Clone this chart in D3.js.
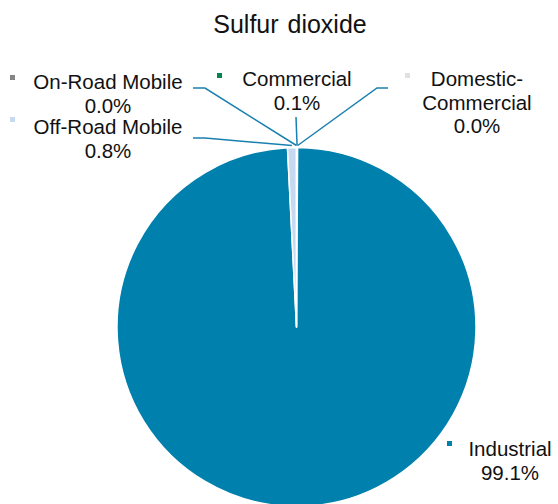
<!DOCTYPE html>
<html>
<head>
<meta charset="utf-8">
<script src="https://cdn.jsdelivr.net/npm/d3@7"></script>
<style>
  body { margin: 0; background: #fff; }
  text { font-family: "Liberation Sans", Arial, sans-serif; fill: #111; }
</style>
</head>
<body>
<div id="wrapper"></div>
<script>
// slices, clockwise from 12 o'clock
const categories = ['Commercial', 'Domestic-Commercial', 'Industrial', 'Off-Road Mobile', 'On-Road Mobile'];
const shares = [0.1, 0.0, 99.1, 0.8, 0.0];
const colors = ['#00864f', '#e0e0e0', '#0080ad', '#c6d9f1', '#858585'];
const labelLines = {
  'Commercial': ['Commercial'],
  'Domestic-Commercial': ['Domestic-', 'Commercial'],
  'Industrial': ['Industrial'],
  'Off-Road Mobile': ['Off-Road Mobile'],
  'On-Road Mobile': ['On-Road Mobile'],
};

function drawPie() {
  const dimensions = { width: 558, height: 504 };
  const center = { x: 296.5, y: 327 };
  const radius = 179.5;

  // label layout: text centre, first baseline, marker, leader start/elbow
  const labelPos = {
    'On-Road Mobile':      { x: 108, y: 89,  mx: 10,  my: 75,  leader: [[193, 88], [205, 88]] },
    'Off-Road Mobile':     { x: 108, y: 134, mx: 10,  my: 117, leader: [[193, 138], [205, 138]] },
    'Commercial':          { x: 297, y: 86,  mx: 217, my: 73,  leader: [[296, 117]] },
    'Domestic-Commercial': { x: 477, y: 86,  mx: 405, my: 73,  leader: [[388, 88], [377, 88]] },
    'Industrial':          { x: 510, y: 456, mx: 447, my: 441, leader: null },
  };

  const dataset = categories.map((c, i) => ({ name: c, value: shares[i], color: colors[i] }));

  const svg = d3.select('#wrapper')
    .append('svg')
    .attr('width', dimensions.width)
    .attr('height', dimensions.height);

  svg.append('text')
    .attr('x', 290)
    .attr('y', 33)
    .attr('text-anchor', 'middle')
    .style('font-size', '25px')
    .style('word-spacing', '2px')
    .text('Sulfur dioxide');

  const pie = d3.pie().sort(null).value(d => d.value);
  const arcs = pie(dataset);
  const arc = d3.arc().innerRadius(0).outerRadius(radius);

  const bounds = svg.append('g')
    .attr('transform', `translate(${center.x},${center.y})`);

  bounds.selectAll('path.slice')
    .data(arcs)
    .join('path')
    .attr('class', 'slice')
    .attr('d', arc)
    .attr('fill', d => d.data.color)
    .attr('stroke', '#fff')
    .attr('stroke-width', 1.5)
    .attr('stroke-linejoin', 'round');

  // leader lines end just outside the slice's mid angle
  const tip = d => {
    const a = (d.startAngle + d.endAngle) / 2;
    return [center.x + Math.sin(a) * (radius + 2), center.y - Math.cos(a) * (radius + 2)];
  };

  const lineGen = d3.line();
  svg.append('g')
    .selectAll('path')
    .data(arcs.filter(d => labelPos[d.data.name].leader))
    .join('path')
    .attr('d', d => lineGen([...labelPos[d.data.name].leader, tip(d)]))
    .attr('fill', 'none')
    .attr('stroke', '#1a80b0')
    .attr('stroke-width', 1.5);

  const labels = svg.append('g')
    .selectAll('g')
    .data(arcs)
    .join('g');

  labels.append('rect')
    .attr('x', d => labelPos[d.data.name].mx)
    .attr('y', d => labelPos[d.data.name].my)
    .attr('width', 5)
    .attr('height', 5)
    .attr('fill', d => d.data.color);

  labels.append('text')
    .attr('text-anchor', 'middle')
    .style('font-size', '20.5px')
    .each(function(d) {
      const p = labelPos[d.data.name];
      const lines = [...labelLines[d.data.name], d.data.value.toFixed(1) + '%'];
      d3.select(this).selectAll('tspan')
        .data(lines)
        .join('tspan')
        .attr('x', p.x)
        .attr('y', (l, i) => p.y + i * 23.5)
        .text(l => l);
    });
}

drawPie();
</script>
</body>
</html>
